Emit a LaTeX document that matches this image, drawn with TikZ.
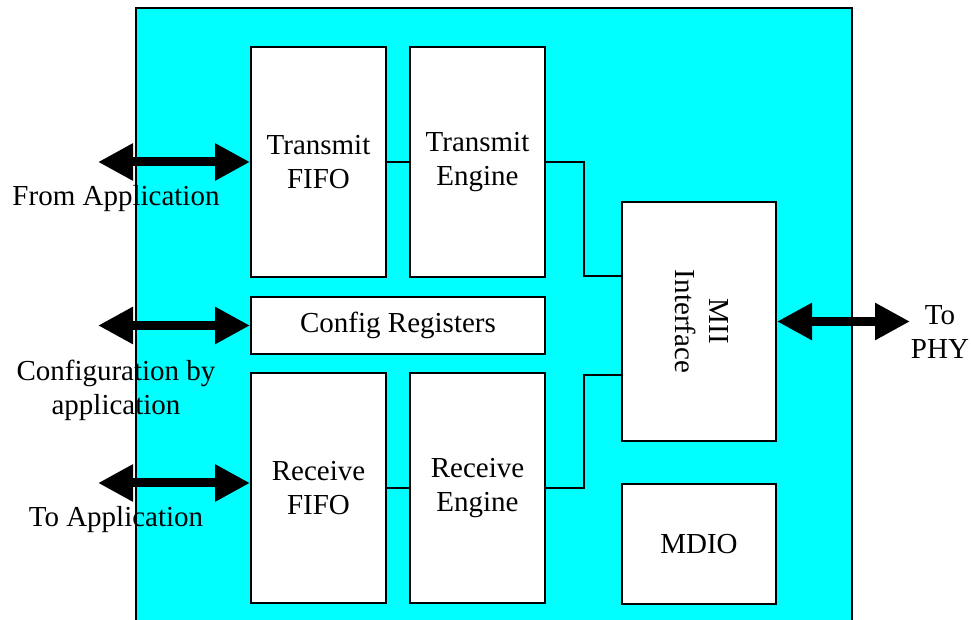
\documentclass[tikz,border=0pt]{standalone}
\usepackage{fontspec}
\setmainfont{Liberation Serif}
\usetikzlibrary{arrows.meta}
\usetikzlibrary{positioning}
\definecolor{corecyan}{RGB}{0,255,255}
\tikzset{
  blockbox/.style={draw=black, line width=1pt, fill=white, align=center, inner sep=0pt, minimum width=67.5pt},
  fifobox/.style={blockbox, minimum height=115pt},
  bigarrow/.style={line width=4.5pt, {Triangle[length=17.5pt,width=17.5pt]}-{Triangle[length=17.5pt,width=17.5pt]}},
  link/.style={line width=1pt},
  sidetext/.style={align=center, inner sep=0pt}
}

\begin{document}
\begin{tikzpicture}[x=0.5pt, y=-0.5pt, every node/.style={font=\fontsize{14.5pt}{17pt}\selectfont}]
        \useasboundingbox (0,0) rectangle (971,620);
        % core
        \draw[line width=1pt, fill=corecyan] (136,8) rectangle (852,640);

        % transmit side
        \node[fifobox] (txfifo) at (318.5,162) {Transmit\\FIFO};
        \node[fifobox, right=11pt of txfifo] (txengine) {Transmit\\Engine};
        % config
        \node[blockbox, minimum width=147pt, minimum height=28.5pt] (config) at (398,325.5) {Config Registers};
        % receive side
        \node[fifobox] (rxfifo) at (318.5,488.5) {Receive\\FIFO};
        \node[fifobox, right=11pt of rxfifo] (rxengine) {Receive\\Engine};
        % phy side
        \node[blockbox, minimum width=77pt, minimum height=119.5pt] (mii) at (699,321.5) {\rotatebox{-90}{\begin{tabular}{@{}c@{}}MII\\Interface\end{tabular}}};
        \node[blockbox, minimum width=77pt, minimum height=60pt] (mdio) at (699,544) {MDIO};

        % links
        \draw[link] (txfifo) -- (txengine);
        \draw[link] (rxfifo) -- (rxengine);
        \draw[link] (txengine.east) -- ++(19pt,0) |- ([yshift=-37.5pt]mii.north west);
        \draw[link] (rxengine.east) -- ++(19pt,0) |- ([yshift=33.5pt]mii.south west);

        % ports
        \coordinate (fromapp) at (98,162);
        \coordinate (cfgapp) at (98,325.5);
        \coordinate (toapp) at (98,483);
        \coordinate (tophy) at (910,321.5);
        \draw[bigarrow] (fromapp) -- (txfifo.west);
        \draw[bigarrow] (cfgapp) -- (config.west);
        \draw[bigarrow] (toapp) -- ([yshift=2.75pt]rxfifo.west);
        \draw[bigarrow] (mii.east) -- (tophy);

        % text
        \node[sidetext] (fromlbl) at (116,199) {From Application};
        \node[sidetext] (cfglbl) at (116,390) {Configuration by\\application};
        \node[sidetext] (tolbl) at (116,520) {To Application};
        \node[sidetext] (phylbl) at (940,332) {To\\PHY};
    \end{tikzpicture}
\end{document}
